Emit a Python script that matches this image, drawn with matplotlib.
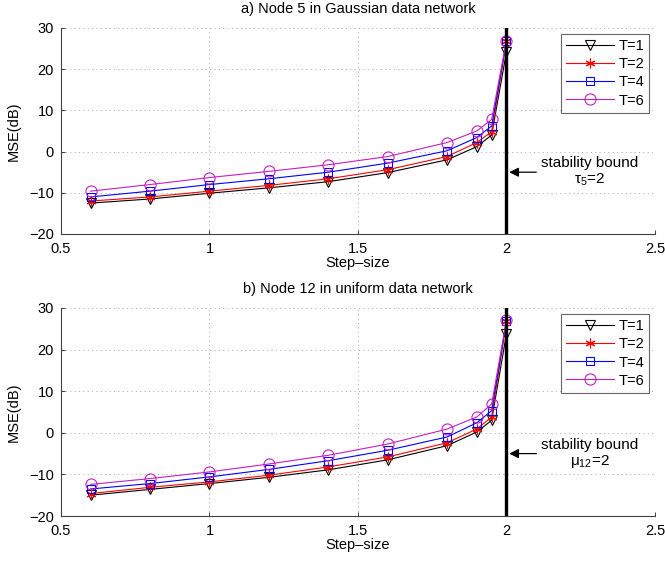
import matplotlib
matplotlib.use("Agg")
import matplotlib.pyplot as plt

plt.rcParams['font.family'] = ['Liberation Sans', 'DejaVu Sans']
plt.rcParams['mathtext.fontset'] = 'custom'
plt.rcParams['mathtext.rm'] = 'Liberation Sans'
plt.rcParams['mathtext.it'] = 'Liberation Sans:italic'
plt.rcParams['mathtext.default'] = 'regular'

step = [0.6, 0.8, 1.0, 1.2, 1.4, 1.6, 1.8, 1.9, 1.95, 2.0]

# a) Node 5, Gaussian data
a_T1 = [-12.5, -11.5, -10.1, -8.8, -7.3, -5.1, -2.0, 1.2, 4.0, 24.2]
a_T2 = [-12.0, -11.0, -9.6, -8.2, -6.6, -4.4, -1.2, 2.2, 4.8, 26.8]
a_T4 = [-11.0, -9.6, -8.0, -6.6, -5.0, -2.8, 0.2, 3.4, 6.2, 26.8]
a_T6 = [-9.6, -8.0, -6.3, -4.8, -3.2, -1.2, 2.2, 5.0, 7.8, 26.9]

# b) Node 12, uniform data
b_T1 = [-15.0, -13.6, -12.2, -10.7, -8.9, -6.5, -3.1, 0.2, 3.0, 23.8]
b_T2 = [-14.6, -13.1, -11.8, -10.2, -8.2, -5.8, -2.4, 0.9, 3.8, 26.8]
b_T4 = [-13.5, -12.2, -10.6, -8.8, -6.7, -4.2, -1.0, 2.4, 5.3, 26.8]
b_T6 = [-12.4, -11.0, -9.4, -7.5, -5.4, -2.7, 0.9, 3.8, 6.9, 27.0]

labels = ['T=1', 'T=2', 'T=4', 'T=6']
colors = ['black', 'red', 'blue', '#c020c0']
markers = ['v', (6, 2, 0), 's', 'o']
msizes = [7, 7, 6, 8]

titles = ['a) Node 5 in Gaussian data network', 'b) Node 12 in uniform data network']
bound_labels = ['stability bound\n$\\tau_5$=2', 'stability bound\n$\\mu_{12}$=2']
bound_x = 2.0
arrow_y = -5

fig = plt.figure(figsize=(6.65, 5.61), dpi=100)
ax1 = fig.add_axes([0.0917, 0.5829, 0.8932, 0.3672])
ax2 = fig.add_axes([0.0917, 0.0802, 0.8932, 0.3708])

datasets = [[a_T1, a_T2, a_T4, a_T6], [b_T1, b_T2, b_T4, b_T6]]

for ax, series, title, blabel in zip([ax1, ax2], datasets, titles, bound_labels):
    for ys, lab, c, m, ms in zip(series, labels, colors, markers, msizes):
        ax.plot(step, ys, color=c, marker=m, markersize=ms, markerfacecolor='none',
                markeredgecolor=c, markeredgewidth=0.8, linewidth=0.8, label=lab, zorder=3)
    ax.axvline(bound_x, color='black', linewidth=2.4, zorder=4)
    ax.set_xlim(0.5, 2.5)
    ax.set_ylim(-20, 30)
    ax.set_xticks([0.5, 1, 1.5, 2, 2.5])
    ax.set_xticklabels(['0.5', '1', '1.5', '2', '2.5'])
    ax.set_yticks([-20, -10, 0, 10, 20, 30])
    ax.set_yticklabels(['\u221220', '\u221210', '0', '10', '20', '30'])
    ax.grid(True, linestyle=(0, (1, 3.5)), color='#a8a8a8', linewidth=0.7)
    ax.set_axisbelow(True)
    for s in ['top', 'right']:
        ax.spines[s].set_visible(False)
    for s in ['left', 'bottom']:
        ax.spines[s].set_color('#404040')
        ax.spines[s].set_linewidth(0.8)
    ax.tick_params(direction='in', length=3, width=0.7, colors='#404040', labelcolor='black', labelsize=10.5)
    ax.tick_params(axis='x', pad=6)
    ax.tick_params(axis='y', pad=5)
    ax.set_title(title, fontsize=10.5, pad=11)
    ax.set_xlabel('Step\u2013size', fontsize=10.5, labelpad=0)
    ax.set_ylabel('MSE(dB)', fontsize=10.5, labelpad=6)
    leg = ax.legend(loc='upper right', bbox_to_anchor=(0.99, 0.97), fontsize=10.5, frameon=True,
                    fancybox=False, edgecolor='#404040', handlelength=3.3, handletextpad=0.3,
                    labelspacing=0.28, borderpad=0.35, borderaxespad=0.0)
    leg.get_frame().set_linewidth(0.8)
    ax.annotate('', xy=(bound_x, arrow_y), xytext=(bound_x + 0.11, arrow_y),
                arrowprops=dict(arrowstyle='-|>', color='black', lw=0.9, mutation_scale=14), zorder=5)
    ax.text(2.28, arrow_y, blabel, ha='center', va='center', fontsize=11, linespacing=1.1)

fig.savefig('out.png', dpi=100, facecolor='white')
